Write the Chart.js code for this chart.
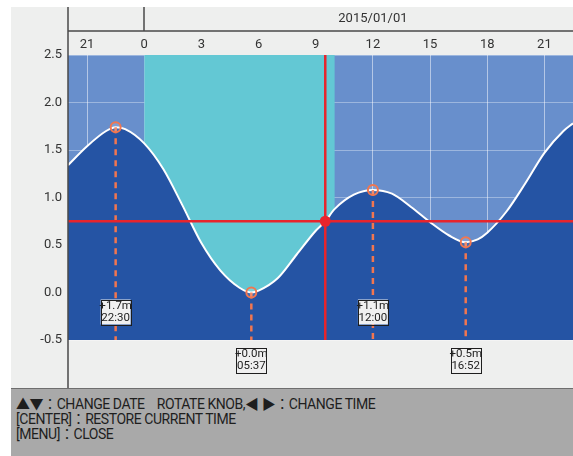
<!DOCTYPE html>
<html>
<head>
<meta charset="utf-8">
<script src="https://cdn.jsdelivr.net/npm/chart.js@4.4.1/dist/chart.umd.min.js"></script>
<style>
  html, body { margin: 0; padding: 0; background: #fff; }
  #wrap { position: relative; width: 573px; height: 456px; overflow: hidden; }
  #chart { position: absolute; left: 0; top: 0; }
  #help {
    position: absolute; left: 11px; top: 388px; width: 562px; height: 68px;
    background: #a9a9a9; border-top: 1px solid #6e6e6e; box-sizing: border-box;
    font-family: Roboto, "Noto Sans CJK JP", sans-serif; font-size: 14px; color: #1e1e1e;
    padding: 8px 0 0 5px; line-height: 15px; letter-spacing: -0.45px;
  }
</style>
</head>
<body>
<div id="wrap">
  <canvas id="chart" width="573" height="388"></canvas>
  <div id="help">
    ▲▼：CHANGE DATE&nbsp;&nbsp;&nbsp;&nbsp;ROTATE KNOB,◀ ▶：CHANGE TIME<br>
    [CENTER]：RESTORE CURRENT TIME<br>
    [MENU]：CLOSE
  </div>
</div>
<script>
// tide curve (hours from 2015/01/01 00:00, metres)
let tideHours  = [-4, -3, -2, -1.5, -1, 0, 1, 2, 3, 4, 5, 5.62, 6, 7, 8, 9, 9.5, 10, 11, 12, 13, 14, 15, 16, 16.87, 17.5, 18, 19, 20, 21, 22, 22.5];
let tideLevels = [1.34, 1.54, 1.70, 1.74, 1.72, 1.57, 1.30, 0.92, 0.52, 0.23, 0.05, 0.00, 0.02, 0.15, 0.40, 0.65, 0.75, 0.88, 1.03, 1.08, 1.04, 0.90, 0.74, 0.60, 0.53, 0.56, 0.63, 0.85, 1.15, 1.47, 1.70, 1.78];

// high / low tides
let peakHours  = [-1.5, 5.62, 12, 16.87];
let peakLevels = [1.74, 0.00, 1.08, 0.53];
let peakText   = ['+1.7m', '+0.0m', '+1.1m', '+0.5m'];
let peakTimes  = ['22:30', '05:37', '12:00', '16:52'];
let peakHigh   = [true, false, true, false];

// day band and cursor
let dayBand = [0, 10];
let cursorHour = 9.5;
let cursorLevel = 0.75;

let xMin = -4, xMax = 22.5;
let yMin = -0.5, yMax = 2.5;
let xTicks = [-3, 0, 3, 6, 9, 12, 15, 18, 21];
let dateLabel = '2015/01/01';

let font = 'Roboto, sans-serif';
let orange = '#f2764f';
let red = '#e8242c';

let dashSets = peakHours.map(function(h, i) {
    return {
        data: [{x: h, y: peakLevels[i]}, {x: h, y: yMin}],
        borderColor: orange,
        borderWidth: 2.5,
        borderDash: [6, 5],
        pointRadius: 0,
        fill: false
    };
});

let panel = {
    id: 'panel',
    beforeDraw: function(chart) {
        let ctx = chart.ctx, a = chart.chartArea;
        ctx.save();
        ctx.fillStyle = '#fff';
        ctx.fillRect(0, 0, chart.width, chart.height);
        ctx.fillStyle = '#eeefee';
        ctx.fillRect(11, 7, chart.width - 11, chart.height - 7);
        ctx.fillStyle = '#688fcc';
        ctx.fillRect(a.left, a.top, a.right - a.left, a.bottom - a.top);
        ctx.restore();
    },
    afterDraw: function(chart) {
        let ctx = chart.ctx, a = chart.chartArea;
        let xs = chart.scales.x;
        ctx.save();
        // header frame
        ctx.strokeStyle = '#4a4a4a';
        ctx.lineWidth = 1.5;
        ctx.beginPath();
        ctx.moveTo(a.left, 7); ctx.lineTo(a.left, chart.height);
        ctx.moveTo(a.left, 31); ctx.lineTo(chart.width, 31);
        let x0 = Math.round(xs.getPixelForValue(0));
        ctx.moveTo(x0, 7); ctx.lineTo(x0, 31);
        ctx.stroke();
        ctx.fillStyle = '#333';
        ctx.font = '13px ' + font;
        ctx.textAlign = 'center';
        ctx.textBaseline = 'middle';
        ctx.fillText(dateLabel, xs.getPixelForValue(12), 19);

        // tide labels
        ctx.font = '11.5px ' + font;
        for (let i = 0; i < peakHours.length; i++) {
            let cx = xs.getPixelForValue(peakHours[i]);
            let cy = peakHigh[i] ? a.bottom - 28 : a.bottom + 20;
            let w = 30, h = 25;
            ctx.fillStyle = '#f0f0f0';
            ctx.fillRect(cx - w / 2, cy - h / 2, w, h);
            ctx.strokeStyle = '#1e1e1e';
            ctx.lineWidth = 1;
            ctx.strokeRect(Math.round(cx - w / 2) + 0.5, Math.round(cy - h / 2) + 0.5, w, h);
            ctx.fillStyle = '#222';
            ctx.fillText(peakText[i], cx, cy - 5.5);
            ctx.fillText(peakTimes[i], cx, cy + 6);
        }
        ctx.restore();
    }
};

let ctx = document.getElementById('chart').getContext('2d');
let chart = new Chart(ctx, {
    type: 'line',
    data: {
        datasets: [
            {
                data: peakHours.map(function(h, i) { return {x: h, y: peakLevels[i]}; }),
                showLine: false,
                pointRadius: 5,
                pointBorderWidth: 2,
                pointBorderColor: orange,
                pointBackgroundColor: 'rgba(255,255,255,0.15)'
            },
            {
                data: [{x: cursorHour, y: cursorLevel}],
                showLine: false,
                pointRadius: 5.5,
                pointBorderWidth: 0,
                pointBackgroundColor: red
            },
            {
                data: [{x: cursorHour, y: yMin}, {x: cursorHour, y: yMax}],
                borderColor: red, borderWidth: 2.5, pointRadius: 0, fill: false
            },
            {
                data: [{x: xMin, y: cursorLevel}, {x: xMax, y: cursorLevel}],
                borderColor: red, borderWidth: 2.5, pointRadius: 0, fill: false
            }
        ].concat(dashSets).concat([
            {
                data: tideHours.map(function(h, i) { return {x: h, y: tideLevels[i]}; }),
                borderColor: '#ffffff',
                borderWidth: 2,
                backgroundColor: '#2554a4',
                fill: 'start',
                cubicInterpolationMode: 'monotone',
                pointRadius: 0
            },
            {
                data: [{x: dayBand[0], y: yMax}, {x: dayBand[1], y: yMax}],
                borderWidth: 0,
                backgroundColor: '#63c8d4',
                fill: 'start',
                pointRadius: 0
            }
        ])
    },
    options: {
        responsive: false,
        animation: false,
        layout: { autoPadding: false, padding: { top: 31, bottom: 48, left: 0, right: 0 } },
        plugins: { legend: { display: false }, tooltip: { enabled: false } },
        scales: {
            x: {
                type: 'linear',
                position: 'top',
                min: xMin,
                max: xMax,
                z: 1,
                border: { display: false },
                grid: { color: 'rgba(255,255,255,0.5)', lineWidth: 1, drawTicks: false },
                afterBuildTicks: function(s) { s.ticks = xTicks.map(function(v) { return {value: v}; }); },
                afterFit: function(s) { s.height = 24; s.paddingLeft = 0; s.paddingRight = 0; },
                ticks: {
                    color: '#333',
                    font: { family: font, size: 13 },
                    padding: 2,
                    maxRotation: 0,
                    autoSkip: false,
                    callback: function(v) { return ((v % 24) + 24) % 24; }
                }
            },
            y: {
                min: yMin,
                max: yMax,
                z: 1,
                border: { display: false },
                grid: {
                    color: function(c) { return c.tick.value === 0 ? '#ffffff' : 'rgba(255,255,255,0.35)'; },
                    lineWidth: function(c) { return c.tick.value === 0 ? 2 : 1; },
                    drawTicks: false
                },
                afterFit: function(s) { s.width = 68; },
                ticks: {
                    stepSize: 0.5,
                    color: '#333',
                    font: { family: font, size: 13 },
                    padding: 6,
                    callback: function(v) { return v.toFixed(1); }
                }
            }
        }
    },
    plugins: [panel]
});
</script>
</body>
</html>
